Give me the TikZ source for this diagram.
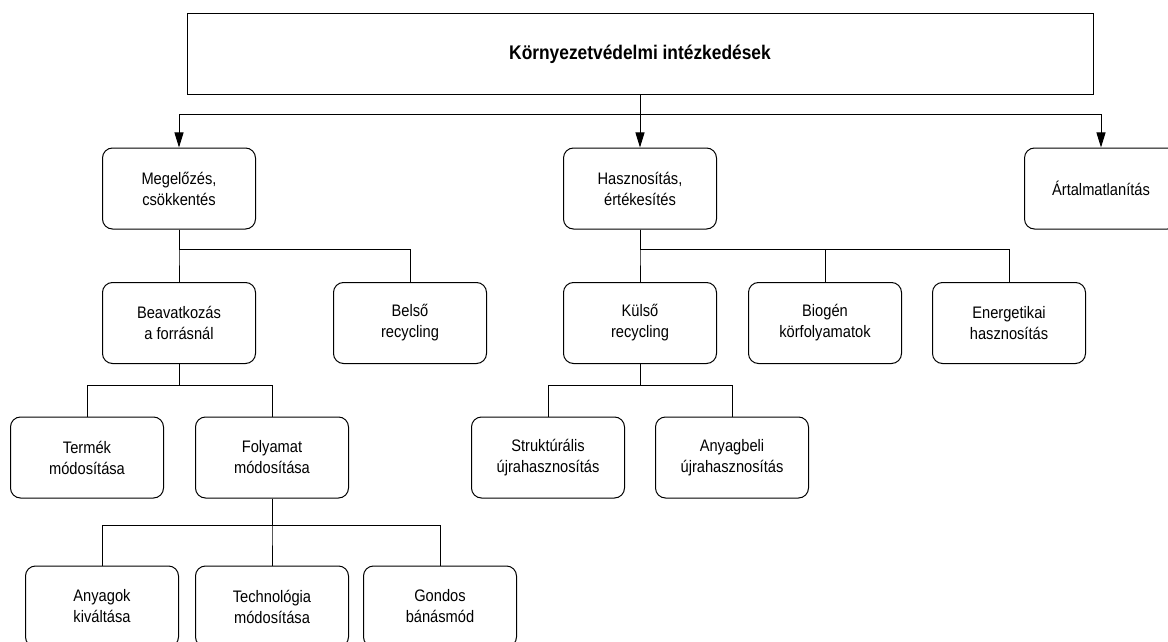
\documentclass[tikz,border=0pt]{standalone}
\usepackage{fontspec}
\setmainfont[FakeStretch=0.88]{Liberation Sans}
\usepackage{tikz}
\usetikzlibrary{arrows.meta}
\tikzset{every picture/.style={line width=0.75pt}}
\tikzset{
  rbox/.style={draw, rounded corners=7.5pt, minimum width=114.75pt, minimum height=60.75pt,
    align=center, inner sep=0.75pt, font=\fontsize{12.5}{15.75}\selectfont},
  topbox/.style={draw, minimum width=679.5pt, minimum height=60.75pt,
    inner sep=0.75pt, font=\fontsize{14.8}{16}\selectfont\bfseries},
  arr/.style={-{Triangle[length=11.25pt,width=6.75pt]}}
}

\begin{document}
\begin{tikzpicture}[x=0.75pt,y=0.75pt,yscale=-1,xscale=1]
\useasboundingbox (0,0) rectangle (1168,642);
\clip (0,0) rectangle (1168,642);

%Shape: Rectangle
\node [topbox] (kornyezet) at (640,54.5) {Környezetvédelmi intézkedések};

%Shape: Rounded Rectangle (level 1)
\node [rbox] (megelozes) at (179,188.5) {Megelőzés,\\csökkentés};
\node [rbox] (hasznositas) at (640,188.5) {Hasznosítás,\\értékesítés};
\node [rbox] (artalm) at (1101,188.5) {Ártalmatlanítás};

%Shape: Rounded Rectangle (level 2)
\node [rbox] (beavatkozas) at (179,323) {Beavatkozás\\a forrásnál};
\node [rbox] (belso) at (410,323) {Belső\\recycling};
\node [rbox] (kulso) at (640,323) {Külső\\recycling};
\node [rbox] (biogen) at (825,323) {Biogén\\körfolyamatok};
\node [rbox] (energetikai) at (1009,323) {Energetikai\\hasznosítás};

%Shape: Rounded Rectangle (level 3)
\node [rbox] (termek) at (87,457.5) {Termék\\módosítása};
\node [rbox] (folyamat) at (272,457.5) {Folyamat\\módosítása};
\node [rbox] (strukturalis) at (548,457.5) {Struktúrális\\újrahasznosítás};
\node [rbox] (anyagbeli) at (732,457.5) {Anyagbeli\\újrahasznosítás};

%Shape: Rounded Rectangle (level 4)
\node [rbox] (anyagok) at (102,606.5) {Anyagok\\kiváltása};
\node [rbox] (technologia) at (272,606.5) {Technológia\\módosítása};
\node [rbox] (gondos) at (440,606.5) {Gondos\\bánásmód};

%Straight Lines with arrows
\draw [arr] (kornyezet.south) -- ++(0,19.5) -| (megelozes.north) ;
\draw [arr] (kornyezet.south) -- (hasznositas.north) ;
\draw [arr] (kornyezet.south) -- ++(0,19.5) -| (artalm.north) ;

%Straight Lines
\draw (megelozes.south) -- ++(0,20) -| (beavatkozas.north) ;
\draw (megelozes.south) -- ++(0,20) -| (belso.north) ;
\draw (hasznositas.south) -- ++(0,20) -| (kulso.north) ;
\draw (hasznositas.south) -- ++(0,20) -| (biogen.north) ;
\draw (hasznositas.south) -- ++(0,20) -| (energetikai.north) ;
\draw (beavatkozas.south) -- ++(0,21) -| (termek.north) ;
\draw (beavatkozas.south) -- ++(0,21) -| (folyamat.north) ;
\draw (kulso.south) -- ++(0,21) -| (strukturalis.north) ;
\draw (kulso.south) -- ++(0,21) -| (anyagbeli.north) ;
\draw (folyamat.south) -- ++(0,27) -| (anyagok.north) ;
\draw (folyamat.south) -- ++(0,27) -| (technologia.north) ;
\draw (folyamat.south) -- ++(0,27) -| (gondos.north) ;

\end{tikzpicture}
\end{document}
